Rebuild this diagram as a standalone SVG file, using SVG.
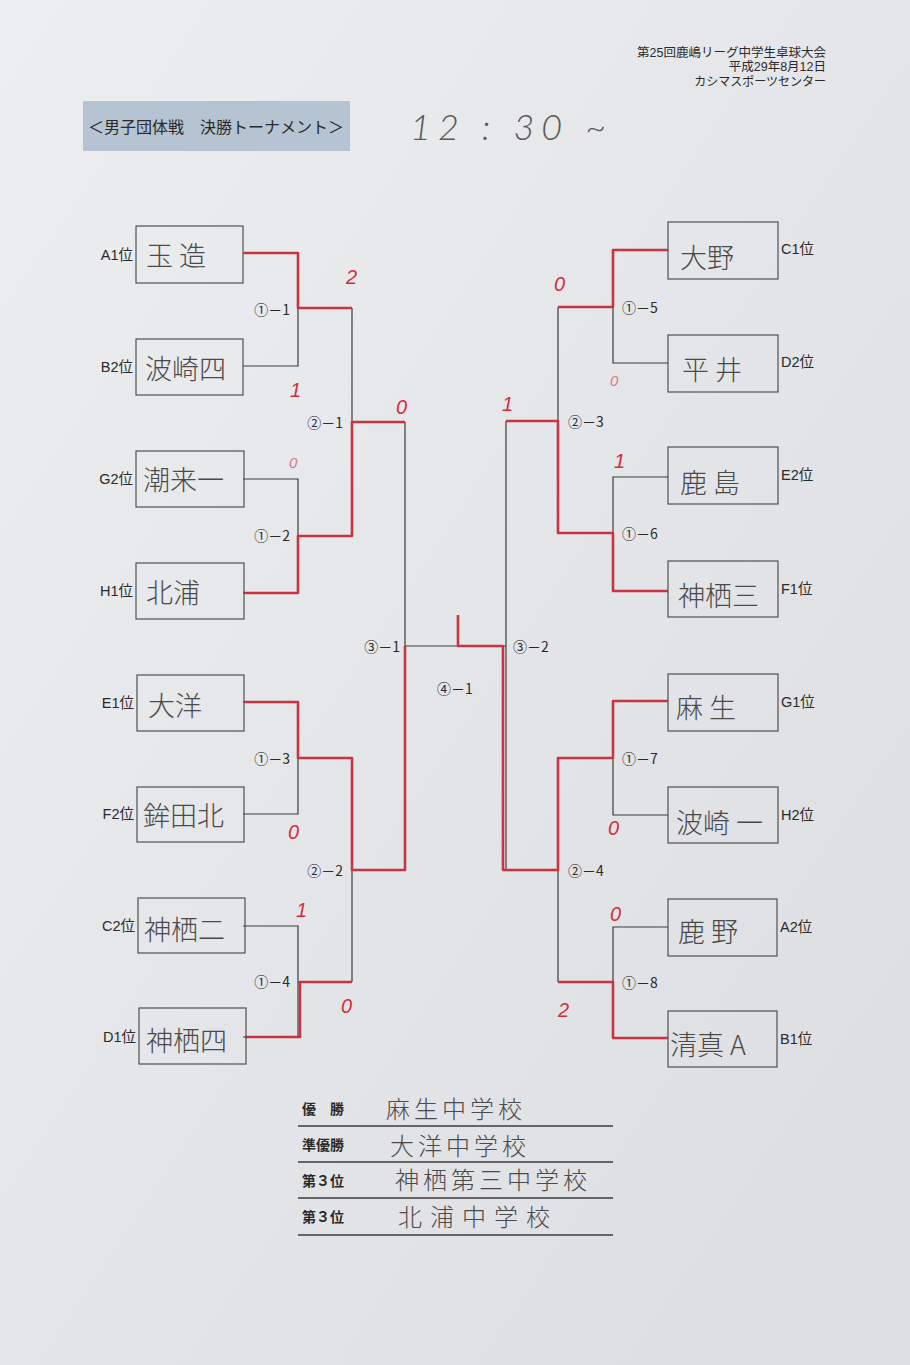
<svg xmlns="http://www.w3.org/2000/svg" width="910" height="1365" viewBox="0 0 910 1365">
<defs>
<linearGradient id="bg" x1="0" y1="0" x2="1" y2="1">
<stop offset="0" stop-color="#eceef0"/>
<stop offset="1" stop-color="#dcdde1"/>
</linearGradient>
<style>
.pr{font-family:"Liberation Sans","Noto Sans CJK JP",sans-serif;fill:#2a2a2a}
.lb{font-family:"Liberation Sans","Noto Sans CJK JP",sans-serif;font-size:14.5px;fill:#2a2a2a}
.rk{font-family:"Noto Sans CJK JP",sans-serif;font-size:14px;fill:#2a2a2a}
.hw{font-family:"Noto Sans CJK JP",sans-serif;font-size:27px;fill:#4a4a4a;font-weight:300}
.hr{font-family:"Noto Sans CJK JP",sans-serif;font-size:24px;fill:#4a4a4a;font-weight:300}
.box{fill:none;stroke:#505050;stroke-width:1.2}
.bl{fill:none;stroke:#3c3c3c;stroke-width:1.2}
.rd{fill:none;stroke:#c83440;stroke-width:2.6;stroke-linejoin:round}
.sc{font-family:"Liberation Sans",sans-serif;font-style:italic;font-size:20px;fill:#d0303c}
.scp{font-family:"Liberation Sans",sans-serif;font-style:italic;font-size:15px;fill:#d87a88}
.tl{fill:none;stroke:#3c3c3c;stroke-width:1.3}
</style>
</defs>
<rect width="910" height="1365" fill="url(#bg)"/>

<g id="header">
<text class="pr" x="826" y="57" font-size="12.5" text-anchor="end">第25回鹿嶋リーグ中学生卓球大会</text>
<text class="pr" x="826" y="71" font-size="12.5" text-anchor="end">平成29年8月12日</text>
<text class="pr" x="826" y="86" font-size="12" text-anchor="end">カシマスポーツセンター</text>
</g>

<g id="title">
<rect x="83" y="101" width="267" height="50" fill="#b5c3d2"/>
<text x="88" y="133" font-family="Noto Sans CJK JP,sans-serif" font-size="16" fill="#2a2a2a">＜男子団体戦　決勝トーナメント＞</text>
</g>

<g id="time">
<text x="410" y="140" font-family="Lato,Liberation Sans,sans-serif" font-style="italic" font-size="36" fill="#5a5a5a" font-weight="300" letter-spacing="7">12 : 30 ~</text>
</g>

<g id="connectors">
<path class="bl" d="M243 253H298V366H243M298 308H352M243 479H298V593H243M298 536H352M352 308V536M352 422H405M243 702H298V814H243M298 758H352M243 926H298V1037H243M298 982H352M352 758V982M352 870H405M405 422V870M405 646H506"/>
<path class="bl" d="M668 250H613V363H668M613 307H558M668 477H613V591H668M613 533H558M558 307V533M558 421H506M668 701H613V815H668M613 758H558M668 927H613V1038H668M613 982H558M558 758V982M558 870H506M506 421V870"/>
<path class="rd" d="M244 253H298V308H352"/>
<path class="rd" d="M244 593H298V536H352V422H405"/>
<path class="rd" d="M244 702H298V758H352V870H405V646"/>
<path class="rd" d="M245 1037H300V982H352"/>
<path class="rd" d="M458 615V646H503V870H558V758H613V701H668"/>
<path class="rd" d="M668 250H613V307H558"/>
<path class="rd" d="M668 591H613V533H558V421H506"/>
<path class="rd" d="M668 1038H613V982H558"/>
</g>

<g id="match-labels" class="rk">
<text x="290" y="315" text-anchor="end">①－1</text>
<text x="343" y="428" text-anchor="end">②－1</text>
<text x="290" y="541" text-anchor="end">①－2</text>
<text x="400" y="652" text-anchor="end">③－1</text>
<text x="290" y="764" text-anchor="end">①－3</text>
<text x="343" y="876" text-anchor="end">②－2</text>
<text x="290" y="987" text-anchor="end">①－4</text>
<text x="437" y="694">④－1</text>
<text x="513" y="652">③－2</text>
<text x="622" y="313">①－5</text>
<text x="568" y="427">②－3</text>
<text x="622" y="539">①－6</text>
<text x="622" y="764">①－7</text>
<text x="568" y="876">②－4</text>
<text x="622" y="988">①－8</text>
</g>

<g id="scores">
<text class="sc" x="346" y="284">2</text>
<text class="sc" x="290" y="397">1</text>
<text class="sc" x="396" y="414">0</text>
<text class="scp" x="289" y="468">0</text>
<text class="sc" x="288" y="839">0</text>
<text class="sc" x="296" y="917">1</text>
<text class="sc" x="341" y="1013">0</text>
<text class="sc" x="554" y="291">0</text>
<text class="scp" x="610" y="386">0</text>
<text class="sc" x="502" y="411">1</text>
<text class="sc" x="614" y="468">1</text>
<text class="sc" x="608" y="835">0</text>
<text class="sc" x="610" y="921">0</text>
<text class="sc" x="558" y="1017">2</text>
</g>

<g id="team-A1"><rect class="box" x="136" y="226" width="107" height="57"/><text class="lb" x="133" y="260" text-anchor="end">A1位</text><text class="hw" x="146" y="266">玉 造</text></g>
<g id="team-B2"><rect class="box" x="136" y="339" width="107" height="56"/><text class="lb" x="133" y="372" text-anchor="end">B2位</text><text class="hw" x="145" y="379">波崎四</text></g>
<g id="team-G2"><rect class="box" x="136" y="451" width="108" height="56"/><text class="lb" x="133" y="484" text-anchor="end">G2位</text><text class="hw" x="143" y="490">潮来一</text></g>
<g id="team-H1"><rect class="box" x="136" y="563" width="108" height="56"/><text class="lb" x="133" y="596" text-anchor="end">H1位</text><text class="hw" x="146" y="603">北浦</text></g>
<g id="team-E1"><rect class="box" x="137" y="675" width="107" height="56"/><text class="lb" x="134" y="708" text-anchor="end">E1位</text><text class="hw" x="148" y="716">大洋</text></g>
<g id="team-F2"><rect class="box" x="137" y="787" width="107" height="55"/><text class="lb" x="134" y="819" text-anchor="end">F2位</text><text class="hw" x="143" y="826">鉾田北</text></g>
<g id="team-C2"><rect class="box" x="138" y="898" width="107" height="55"/><text class="lb" x="135" y="931" text-anchor="end">C2位</text><text class="hw" x="144" y="940">神栖二</text></g>
<g id="team-D1"><rect class="box" x="139" y="1008" width="107" height="56"/><text class="lb" x="136" y="1042" text-anchor="end">D1位</text><text class="hw" x="146" y="1051">神栖四</text></g>

<g id="team-C1"><rect class="box" x="668" y="222" width="110" height="57"/><text class="lb" x="781" y="254">C1位</text><text class="hw" x="680" y="268">大野</text></g>
<g id="team-D2"><rect class="box" x="668" y="335" width="110" height="57"/><text class="lb" x="781" y="367">D2位</text><text class="hw" x="682" y="380">平 井</text></g>
<g id="team-E2"><rect class="box" x="668" y="447" width="110" height="57"/><text class="lb" x="781" y="480">E2位</text><text class="hw" x="680" y="493">鹿 島</text></g>
<g id="team-F1"><rect class="box" x="668" y="561" width="110" height="56"/><text class="lb" x="781" y="594">F1位</text><text class="hw" x="678" y="606">神栖三</text></g>
<g id="team-G1"><rect class="box" x="668" y="674" width="110" height="57"/><text class="lb" x="781" y="707">G1位</text><text class="hw" x="676" y="718">麻 生</text></g>
<g id="team-H2"><rect class="box" x="668" y="787" width="110" height="56"/><text class="lb" x="781" y="820">H2位</text><text class="hw" x="676" y="833">波崎 一</text></g>
<g id="team-A2"><rect class="box" x="668" y="899" width="109" height="57"/><text class="lb" x="780" y="932">A2位</text><text class="hw" x="678" y="942">鹿 野</text></g>
<g id="team-B1"><rect class="box" x="668" y="1011" width="109" height="56"/><text class="lb" x="780" y="1044">B1位</text><text class="hw" x="670" y="1055">清真 A</text></g>

<g id="results">
<path class="tl" d="M298 1126H613M298 1162H613M298 1198H613M298 1235H613"/>
<text class="rk" x="302" y="1114" font-size="13" font-weight="bold">優　勝</text>
<text class="rk" x="302" y="1150" font-size="13" font-weight="bold">準優勝</text>
<text class="rk" x="302" y="1186" font-size="13" font-weight="bold">第３位</text>
<text class="rk" x="302" y="1222" font-size="13" font-weight="bold">第３位</text>
<text class="hr" x="386" y="1118" letter-spacing="4">麻生中学校</text>
<text class="hr" x="390" y="1155" letter-spacing="4">大洋中学校</text>
<text class="hr" x="395" y="1189" letter-spacing="4">神栖第三中学校</text>
<text class="hr" x="398" y="1226" letter-spacing="8">北浦中学校</text>
</g>
</svg>
